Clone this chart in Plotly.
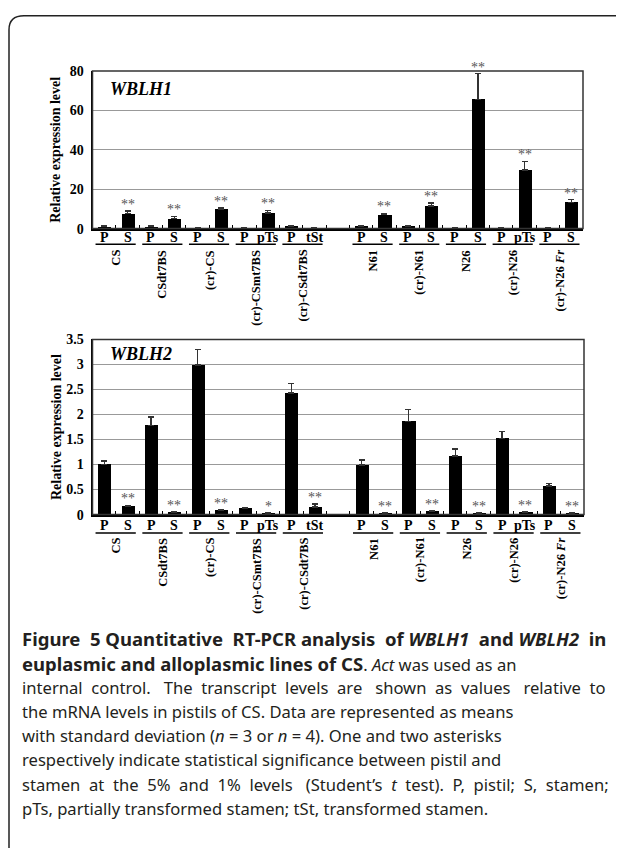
import plotly.graph_objects as go

# page is 624x856; the body keeps its default 8px margin, so the figure is 608x840
PAGE_W, PAGE_H = 624, 856
MARGIN = 8
W, H = PAGE_W - 2 * MARGIN, PAGE_H - 2 * MARGIN

groups = ["CS", "CSdt7BS", "(cr)-CS", "(cr)-CSmt7BS", "(cr)-CSdt7BS",
          "N61", "(cr)-N61", "N26", "(cr)-N26", "(cr)-N26 <i>Fr</i>"]
organ_P = ["P", "P", "P", "P", "P", "P", "P", "P", "P", "P"]
organ_S = ["S", "S", "S", "pTs", "tSt", "S", "S", "S", "pTs", "S"]

wblh1_P = [1.0, 1.0, 0.3, 0.3, 1.1, 1.3, 1.1, 0.3, 0.3, 0.3]
wblh1_P_sd = [0.3, 0.3, 0.1, 0.1, 0.2, 0.3, 0.3, 0.1, 0.1, 0.1]
wblh1_S = [7.5, 5.0, 9.8, 8.0, 0.3, 7.0, 11.5, 65.7, 29.7, 13.4]
wblh1_S_sd = [1.5, 1.2, 0.7, 1.3, 0.1, 0.8, 1.5, 13.0, 4.5, 1.3]
wblh1_sig = ["**", "**", "**", "**", "", "**", "**", "**", "**", "**"]

wblh2_P = [1.0, 1.78, 2.99, 0.12, 2.43, 0.99, 1.86, 1.17, 1.52, 0.57]
wblh2_P_sd = [0.07, 0.17, 0.31, 0.02, 0.19, 0.10, 0.24, 0.14, 0.14, 0.05]
wblh2_S = [0.165, 0.05, 0.09, 0.03, 0.15, 0.03, 0.07, 0.03, 0.05, 0.02]
wblh2_S_sd = [0.02, 0.01, 0.01, 0.01, 0.06, 0.01, 0.01, 0.01, 0.01, 0.01]
wblh2_sig = ["**", "**", "**", "*", "**", "**", "**", "**", "**", "**"]

y1_ticks = [0, 20, 40, 60, 80]
y2_ticks = [0, 0.5, 1, 1.5, 2, 2.5, 3, 3.5]
y2_ticktext = ["0", "0.5", "1", "1.5", "2", "2.5", "3", "3.5"]

caption = [
    "<b>Figure 5 Quantitative RT-PCR analysis of <i>WBLH1</i> and <i>WBLH2</i> in</b>",
    "<b>euplasmic and alloplasmic lines of CS</b>. <i>Act</i> was used as an",
    "internal control. The transcript levels are shown as values relative to",
    "the mRNA levels in pistils of CS. Data are represented as means",
    "with standard deviation (<i>n</i> = 3 or <i>n</i> = 4). One and two asterisks",
    "respectively indicate statistical significance between pistil and",
    "stamen at the 5% and 1% levels (Student\u2019s <i>t</i> test). P, pistil; S, stamen;",
    "pTs, partially transformed stamen; tSt, transformed stamen.",
]
# extra word spaces for the lines that are justified in the original
caption_extra_spaces = [5, 0, 13, 0, 0, 0, 14, 0]

SERIF = "Liberation Serif"
SANS = "Noto Sans"
CAP_SIZE = 16.6
CAP_BOLD_SIZE = 18.5


def px(x):
    return (x - MARGIN) / W


def py(y):
    return 1 - (y - MARGIN) / H


def justify(text, extra):
    parts = text.split(" ")
    g = len(parts) - 1
    if extra <= 0 or g <= 0:
        return text
    out = parts[0]
    for j in range(g):
        n = round((j + 1) * extra / g) - round(j * extra / g)
        out += " " + "\u00a0" * n + parts[j + 1]
    return out


def style_caption(text):
    return (text.replace("<b>", '<b><span style="font-size:%spx">' % CAP_BOLD_SIZE)
                .replace("</b>", "</span></b>"))


pos_P = [2 * i + (1 if i >= 5 else 0) for i in range(len(groups))]
pos_S = [p + 1 for p in pos_P]

fig = go.Figure()

panels = [
    dict(P=wblh1_P, Psd=wblh1_P_sd, S=wblh1_S, Ssd=wblh1_S_sd, sig=wblh1_sig,
         xa="x", ya="y", top=65, bot=225.5, left=92.5, right=583,
         lab=235, line=241.5, name=245, title="WBLH1", ty=83),
    dict(P=wblh2_P, Psd=wblh2_P_sd, S=wblh2_S, Ssd=wblh2_S_sd, sig=wblh2_sig,
         xa="x2", ya="y2", top=338.3, bot=516.7, left=92.5, right=584,
         lab=528, line=535.5, name=538, title="WBLH2", ty=353),
]

shapes = []
annotations = []

for k, pn in enumerate(panels):
    xs = []
    ys = []
    es = []
    for i in range(len(groups)):
        xs += [pos_P[i], pos_S[i]]
        ys += [pn["P"][i], pn["S"][i]]
        es += [pn["Psd"][i], pn["Ssd"][i]]
    fig.add_trace(go.Bar(
        x=xs, y=ys, xaxis=pn["xa"], yaxis=pn["ya"], width=0.56,
        marker=dict(color="#000000", line=dict(width=0)),
        error_y=dict(type="data", array=es, arrayminus=[0] * len(es),
                     symmetric=False, color="#333333", thickness=1.3, width=3),
        showlegend=False, hoverinfo="skip"))
    xref = pn["xa"]
    yref = pn["ya"]
    for i in range(len(groups)):
        if pn["sig"][i]:
            annotations.append(dict(
                x=pos_S[i], y=pn["S"][i] + pn["Ssd"][i], xref=xref, yref=yref,
                text=pn["sig"][i], showarrow=False, yanchor="bottom", yshift=-3,
                font=dict(family=SERIF, size=14, color="#555555")))
        for p, t in ((pos_P[i], organ_P[i]), (pos_S[i], organ_S[i])):
            annotations.append(dict(
                x=p, y=py(pn["lab"]), xref=xref, yref="paper", text="<b>%s</b>" % t,
                showarrow=False, yanchor="middle",
                font=dict(family=SERIF, size=14, color="#000")))
        shapes.append(dict(type="line", xref=xref, yref="paper",
                           x0=pos_P[i] - 0.37, x1=pos_S[i] + 0.35,
                           y0=py(pn["line"]), y1=py(pn["line"]),
                           line=dict(color="#000", width=1.5)))
        annotations.append(dict(
            x=(pos_P[i] + pos_S[i]) / 2, y=py(pn["name"]), xref=xref, yref="paper",
            text="<b>%s</b>" % groups[i], showarrow=False, textangle=-90,
            xanchor="center", yanchor="top",
            font=dict(family=SERIF, size=12.5, color="#000")))
    annotations.append(dict(
        x=px(108), y=py(pn["ty"]), xref="paper", yref="paper",
        text="<b><i>%s</i></b>" % pn["title"], showarrow=False,
        xanchor="left", yanchor="middle",
        font=dict(family=SERIF, size=18, color="#000")))
    annotations.append(dict(
        x=px(56), y=py((pn["top"] + pn["bot"]) / 2), xref="paper", yref="paper",
        text="<b>Relative expression level</b>", showarrow=False, textangle=-90,
        xanchor="center", yanchor="middle",
        font=dict(family=SERIF, size=14, color="#000")))
    shapes.append(dict(type="rect", xref="paper", yref="paper",
                       x0=px(pn["left"]), x1=px(pn["right"]),
                       y0=py(pn["bot"]), y1=py(pn["top"]),
                       line=dict(color="#333", width=1.5)))

cap_y = [643, 668, 692.5, 717, 741.5, 766.5, 791, 815.5]
for line, extra, yy in zip(caption, caption_extra_spaces, cap_y):
    annotations.append(dict(
        x=px(20), y=py(yy), xref="paper", yref="paper",
        text=style_caption(justify(line, extra)),
        showarrow=False, xanchor="left", yanchor="middle",
        font=dict(family=SANS, size=CAP_SIZE, color="#231f20")))

# outer frame with rounded top-left corner
shapes.append(dict(
    type="path", xref="paper", yref="paper",
    path="M %f %f L %f %f Q %f %f %f %f L %f %f" % (
        px(9), py(860), px(9), py(23), px(9), py(8.8), px(24), py(8.8),
        px(620), py(8.8)),
    line=dict(color="#222", width=1.5)))

xaxis_common = dict(range=[-0.5, 20.5], tickmode="array",
                    tickvals=[v + 0.5 for v in range(20)],
                    ticktext=[""] * 20, ticks="inside", ticklen=4,
                    tickcolor="#000", showgrid=False, zeroline=False,
                    showline=True, linecolor="#000", linewidth=2, fixedrange=True)

yaxis_common = dict(tickmode="array",
                    tickfont=dict(family=SERIF, size=14, color="#000", weight="bold"),
                    showgrid=True, gridcolor="#999", gridwidth=1, zeroline=False,
                    showline=True, linecolor="#000", linewidth=2, ticks="",
                    ticklabelstandoff=4, fixedrange=True)

fig.update_layout(
    width=W, height=H, margin=dict(l=0, r=0, t=0, b=0),
    paper_bgcolor="white", plot_bgcolor="white",
    bargap=0,
    xaxis=dict(domain=[px(92.5), px(583)], anchor="y", **xaxis_common),
    yaxis=dict(domain=[py(225.5), py(65)], anchor="x", range=[0, 80],
               tickvals=y1_ticks, **yaxis_common),
    xaxis2=dict(domain=[px(92.5), px(584)], anchor="y2", **xaxis_common),
    yaxis2=dict(domain=[py(516.7), py(338.3)], anchor="x2", range=[0, 3.5],
                tickvals=y2_ticks, ticktext=y2_ticktext, **yaxis_common),
    shapes=shapes, annotations=annotations,
)

fig.write_html("out.html", config={"displayModeBar": False})
